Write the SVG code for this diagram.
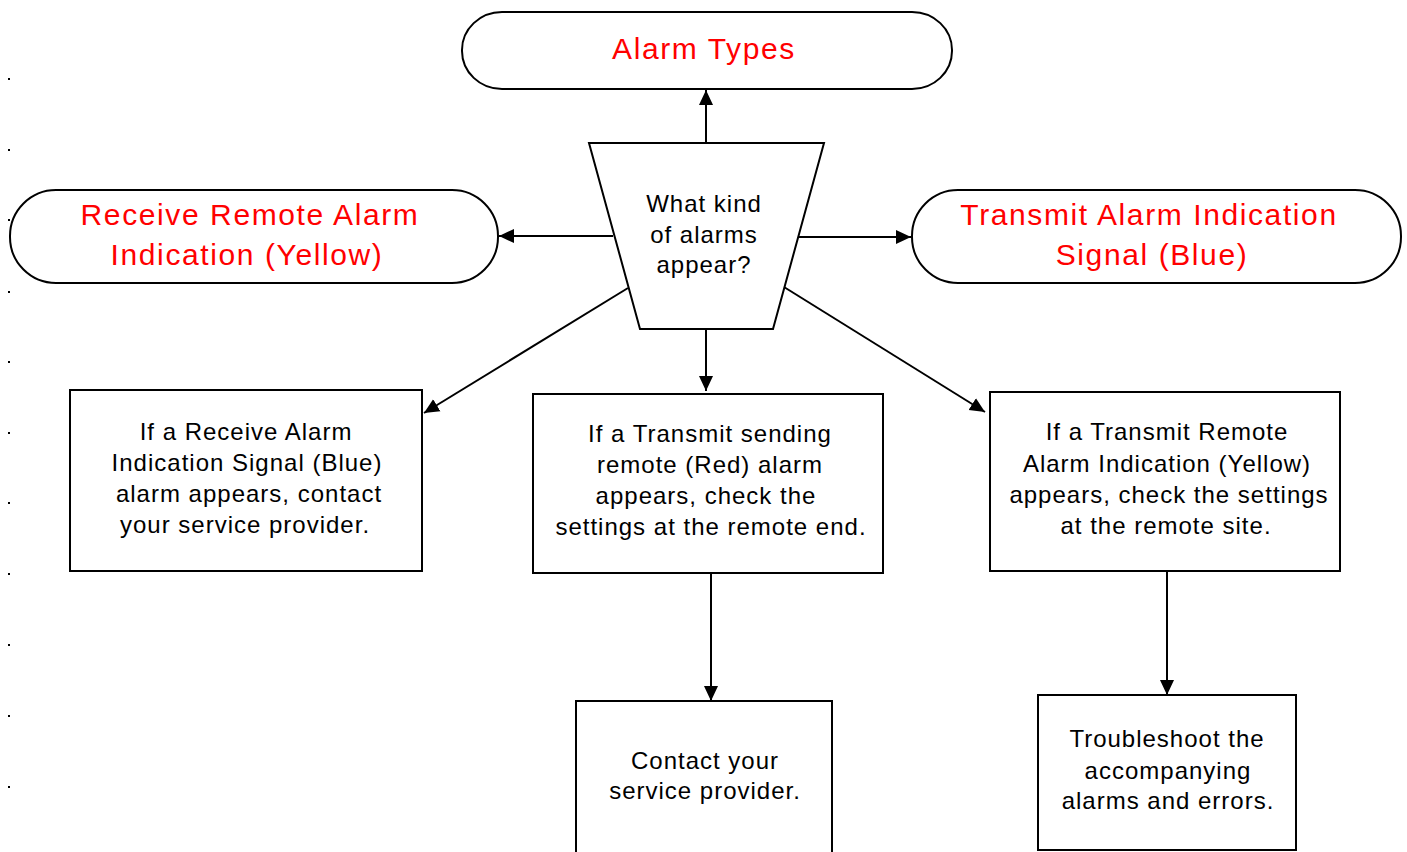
<svg xmlns="http://www.w3.org/2000/svg" width="1407" height="852" viewBox="0 0 1407 852">
<defs>
<style>
.shape{fill:#fff;stroke:#000;stroke-width:2}
.t{font-family:"Liberation Sans",Arial,sans-serif;font-size:24px;letter-spacing:1px;fill:#000;text-anchor:middle}
.r{font-family:"Liberation Sans",Arial,sans-serif;font-size:30px;letter-spacing:1.6px;fill:#ff0000;text-anchor:middle}
.c{fill:none;stroke:#000;stroke-width:2}
.dot{fill:#000}
</style>
<marker id="ah" markerUnits="userSpaceOnUse" markerWidth="16" markerHeight="16" viewBox="0 0 16 16" refX="15" refY="8" orient="auto">
<path d="M0,1 L15,8 L0,15 Z" fill="#000"/>
</marker>
</defs>
<rect width="1407" height="852" fill="#fff"/>
<g id="margin-dots">
<rect class="dot" x="8" y="78" width="2" height="2"/>
<rect class="dot" x="8" y="149" width="2" height="2"/>
<rect class="dot" x="8" y="219" width="2" height="2"/>
<rect class="dot" x="8" y="291" width="2" height="2"/>
<rect class="dot" x="8" y="361" width="2" height="2"/>
<rect class="dot" x="8" y="432" width="2" height="2"/>
<rect class="dot" x="8" y="502" width="2" height="2"/>
<rect class="dot" x="8" y="573" width="2" height="2"/>
<rect class="dot" x="8" y="644" width="2" height="2"/>
<rect class="dot" x="8" y="715" width="2" height="2"/>
<rect class="dot" x="8" y="786" width="2" height="2"/>
</g>
<g id="connectors">
<line class="c" x1="706" y1="143" x2="706" y2="90" marker-end="url(#ah)"/>
<line class="c" x1="613" y1="236" x2="499" y2="236" marker-end="url(#ah)"/>
<line class="c" x1="799" y1="237" x2="911" y2="237" marker-end="url(#ah)"/>
<line class="c" x1="628" y1="288" x2="424" y2="413" marker-end="url(#ah)"/>
<line class="c" x1="784" y1="287" x2="985" y2="412" marker-end="url(#ah)"/>
<line class="c" x1="706" y1="329" x2="706" y2="391" marker-end="url(#ah)"/>
<line class="c" x1="711" y1="573" x2="711" y2="701" marker-end="url(#ah)"/>
<line class="c" x1="1167" y1="571" x2="1167" y2="695" marker-end="url(#ah)"/>
</g>
<g id="alarm-types">
<rect class="shape" x="462" y="12" width="490" height="77" rx="40" ry="38"/>
<text class="r" x="704" y="59">Alarm Types</text>
</g>
<g id="question">
<polygon class="shape" points="589,143 824,143 773,329 640,329"/>
<text class="t" x="704" y="212">What kind</text>
<text class="t" x="704" y="243">of alarms</text>
<text class="t" x="704" y="273">appear?</text>
</g>
<g id="receive-remote">
<rect class="shape" x="10" y="190" width="488" height="93" rx="46" ry="46"/>
<text class="r" x="250" y="225">Receive Remote Alarm</text>
<text class="r" x="247" y="265">Indication (Yellow)</text>
</g>
<g id="transmit-ais">
<rect class="shape" x="912" y="190" width="489" height="93" rx="46" ry="46"/>
<text class="r" x="1149" y="225">Transmit Alarm Indication</text>
<text class="r" x="1152" y="265">Signal (Blue)</text>
</g>
<g id="box-left">
<rect class="shape" x="70" y="390" width="352" height="181"/>
<text class="t" x="246" y="440">If a Receive Alarm</text>
<text class="t" x="247" y="471">Indication Signal (Blue)</text>
<text class="t" x="249" y="502">alarm appears, contact</text>
<text class="t" x="245" y="533">your service provider.</text>
</g>
<g id="box-middle">
<rect class="shape" x="533" y="394" width="350" height="179"/>
<text class="t" x="710" y="442">If a Transmit sending</text>
<text class="t" x="710" y="473">remote (Red) alarm</text>
<text class="t" x="706" y="504">appears, check the</text>
<text class="t" x="711" y="535">settings at the remote end.</text>
</g>
<g id="box-right">
<rect class="shape" x="990" y="392" width="350" height="179"/>
<text class="t" x="1167" y="440">If a Transmit Remote</text>
<text class="t" x="1167" y="472">Alarm Indication (Yellow)</text>
<text class="t" x="1169" y="503">appears, check the settings</text>
<text class="t" x="1166" y="534">at the remote site.</text>
</g>
<g id="box-contact">
<rect class="shape" x="576" y="701" width="256" height="160"/>
<text class="t" x="705" y="769">Contact your</text>
<text class="t" x="705" y="799">service provider.</text>
</g>
<g id="box-troubleshoot">
<rect class="shape" x="1038" y="695" width="258" height="155"/>
<text class="t" x="1167" y="747">Troubleshoot the</text>
<text class="t" x="1168" y="779">accompanying</text>
<text class="t" x="1168" y="809">alarms and errors.</text>
</g>
</svg>
